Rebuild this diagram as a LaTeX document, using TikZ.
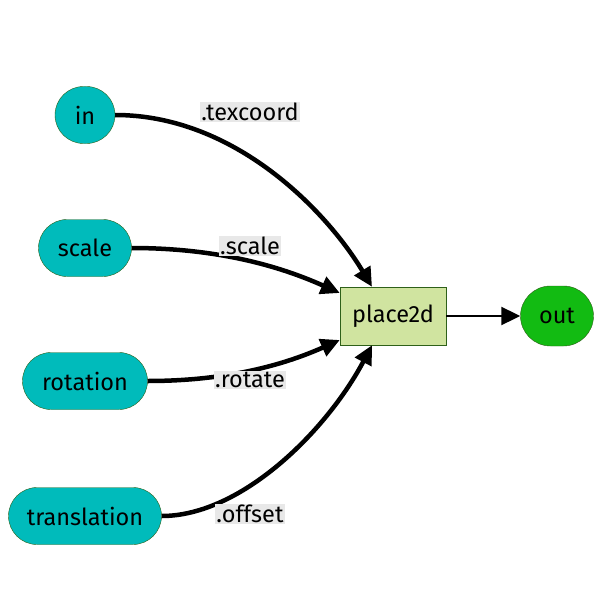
\documentclass[tikz,border=0pt]{standalone}
\usepackage{fontspec}
\setmainfont{Fira Sans}
\usetikzlibrary{arrows.meta}
\definecolor{teal1}{HTML}{00BBBB}
\definecolor{edgegreen}{HTML}{2E6019}
\definecolor{boxgreen}{HTML}{D0E4A0}
\definecolor{outgreen}{HTML}{12BB12}
\definecolor{labgray}{HTML}{E8E8E8}
\begin{document}
\begin{tikzpicture}[x=1pt, y=-1pt, font=\fontsize{23.5}{27}\selectfont,
  inport/.style={draw=edgegreen, fill=teal1, rounded corners=28.5pt,
                 minimum height=57pt, minimum width=#1, inner sep=0pt},
  opbox/.style={draw=edgegreen, fill=boxgreen, minimum width=106pt,
                minimum height=58pt},
  lab/.style={fill=labgray, inner sep=1.5pt},
  arr/.style={-{Triangle[length=19pt,width=18pt]}, line width=4.5pt},
  thinarr/.style={-{Triangle[length=19pt,width=18pt]}, line width=2pt}
]
  \useasboundingbox (0,0) rectangle (607,607);

  \node[inport=60pt]  (in)          at (85,115) {in};
  \node[inport=93pt]  (scale)       at (85,248) {scale};
  \node[inport=125pt] (rotation)    at (85,381) {rotation};
  \node[inport=153pt] (translation) at (85,516) {translation};

  \node[opbox] (place2d) at (393,316) {place2d};
  \node[draw=edgegreen, fill=outgreen, rounded corners=30pt,
        minimum width=73pt, minimum height=60pt, inner sep=0pt]
        (out) at (557,316) {out};

  \draw[arr] (in.east) .. controls +(120,0) and +(-45,-75)
        .. ([xshift=-21pt]place2d.north);
  \draw[arr] (scale.east) .. controls +(100,0) and +(-45,-20)
        .. ([yshift=23pt]place2d.west);
  \draw[arr] (rotation.east) .. controls +(90,0) and +(-45,20)
        .. ([yshift=-24pt]place2d.west);
  \draw[arr] (translation.east) .. controls +(80,0) and +(-45,85)
        .. ([xshift=-21pt]place2d.south);
  \draw[thinarr] (place2d) -- (out);

  \node[lab] (ltex) at (250,112) {.texcoord};
  \node[lab] (lsca) at (250,246) {.scale};
  \node[lab] (lrot) at (250,380) {.rotate};
  \node[lab] (loff) at (250,514) {.offset};
\end{tikzpicture}
\end{document}
